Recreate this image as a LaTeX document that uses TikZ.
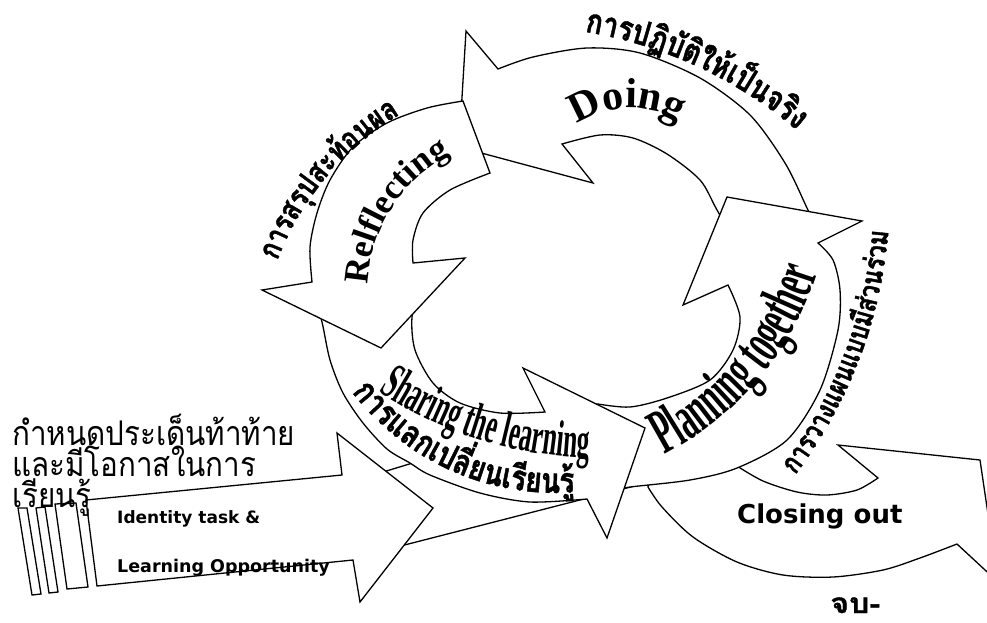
\documentclass[tikz,border=0pt]{standalone}
\usepackage{fontspec}
\setmainfont{Liberation Serif}
\newfontfamily\thaifont[Script=Thai,FakeStretch=0.87]{Loma}
\newfontfamily\thaiheavy[Script=Thai,FakeStretch=0.8,BoldFeatures={FakeBold=1.2}]{Loma}
\newfontfamily\thaiwide[Script=Thai,FakeStretch=1.15,BoldFeatures={FakeBold=1}]{Loma}
\newfontfamily\headfont{DejaVu Sans}
\newfontfamily\narrowfont[FakeStretch=0.5]{Liberation Serif}
\usetikzlibrary{decorations.text}

\tikzset{
	block/.style={draw=black,fill=white,line width=1.3pt,line join=miter},
	curvetext/.style={decorate,decoration={text along path,text={#1}}},
}

\begin{document}
\begin{tikzpicture}[x=1pt,y=-1pt]
	\useasboundingbox (0,0) rectangle (987,622);
	\clip (0,0) rectangle (987,622);

	\draw[block] (370,476) -- (560,418) -- (650,482) -- (385,550) -- cycle;

	\draw[block] (650,470) -- (730,452) -- plot[smooth] coordinates {(737,466) (763,481) (797,492) (827,495) (857,490) (878,478)} -- (838,445) -- (980,460) -- (998,582) -- (957,544) -- plot[smooth] coordinates {(957,544) (920,558) (883,570) (833,577) (783,575) (737,562) (693,537) (662,507) (648,487)} -- cycle;

	\draw[block] (86,500) -- (342,475) -- (337,433) -- (433,508) -- (360,602) -- (353,560) -- (97,586) -- cycle;
	\draw[block] (18,508) -- (27,508) -- (41,594) -- (32,595) -- cycle;
	\draw[block] (36,508) -- (45,507) -- (58,592) -- (49,593) -- cycle;
	\draw[block] (55,504) -- (76,503) -- (88,587) -- (67,589) -- cycle;

	\draw[block] plot[smooth] coordinates {(818,232) (807,208) (785,163) (750,115) (700,78) (640,53) (587,48) (533,57) (498,69)} -- (466,31) -- (459,147) -- (593,183) -- (562,144) -- plot[smooth] coordinates {(562,144) (600,135) (633,138) (667,154) (700,180) (717,210) (740,250)} -- cycle;

	\draw[block] (580,405) -- (615,490) -- plot[smooth] coordinates {(615,490) (630,487) (690,480) (737,468) (787,440) (820,390) (838,330) (840,290) (833,260) (818,243)} -- (862,221) -- (727,197) -- (683,305) -- (728,285) -- plot[smooth] coordinates {(728,285) (740,317) (733,350) (710,380) (667,398) (630,407) (598,404)} -- cycle;

	\draw[block] (315,300) -- plot[smooth] coordinates {(315,300) (322,322) (330,360) (343,393) (363,423) (387,449) (410,463) (430,475) (480,493) (530,502) (587,499)} -- (607,538) -- (645,428) -- (523,368) -- (545,412) -- plot[smooth] coordinates {(545,412) (500,413) (460,403) (433,383) (415,350) (412,317) (420,290)} -- cycle;

	\draw[block] (463,101) -- (490,173) -- plot[smooth] coordinates {(490,173) (450,190) (423,213) (413,240) (413,263)} -- (465,258) -- (381,348) -- (262,290) -- (312,282) -- plot[smooth] coordinates {(312,282) (310,247) (317,213) (330,180) (353,147) (387,123) (427,108) (463,101)} -- cycle;

	\path[curvetext={|\bfseries\fontsize{42}{42}\selectfont|Doing}] plot[domain=0:1,samples=60,variable=\t] ({630+92*cos(-125+95*\t)},{200+92*sin(-125+95*\t)});
	\path[curvetext={|\thaiheavy\bfseries\fontsize{34}{34}\selectfont|การป{ฏิ}{บั}{ติ}ใ{ห้}เ{ป็}นจ{ริ}ง}] plot[domain=0:1,samples=80,variable=\t] ({513.5+436*cos(-80.6+42*\t)},{461.9+436*sin(-80.6+42*\t)});
	\path[curvetext={|\bfseries\fontsize{35}{35}\selectfont|Relflecting}] plot[domain=0:1,samples=80,variable=\t] ({520+152*cos(182+88*\t)},{290+152*sin(182+88*\t)});
	\path[curvetext={|\thaiheavy\bfseries\fontsize{31}{31}\selectfont|การส{รุ}ปสะ{ท้}อนผล},decoration={raise=3pt}] plot[domain=0:1,samples=80,variable=\t] ({550+289*cos(200.9+50*\t)},{365+289*sin(200.9+50*\t)});
	\path[curvetext={|\narrowfont\bfseries\fontsize{51}{51}\selectfont|Sharing the learning}] plot[domain=0:1,samples=80,variable=\t] ({599+401*cos(123.4-55*\t)},{57+401*sin(123.4-55*\t)});
	\path[curvetext={|\thaiheavy\bfseries\fontsize{35}{35}\selectfont|การแลกเป{ลี่}ยนเ{รี}ยน{รู้}}] plot[domain=0:1,samples=80,variable=\t] ({555.5+256*cos(142.7-68*\t)},{236.9+256*sin(142.7-68*\t)});
	\path[curvetext={|\narrowfont\bfseries\fontsize{64}{64}\selectfont|Planning together}] plot[domain=0:1,samples=80,variable=\t] ({522.4+309*cos(62.6-63*\t)},{180.4+309*sin(62.6-63*\t)});
	\path[curvetext={|\thaiheavy\bfseries\fontsize{29}{29}\selectfont|การวางแผนแบบ{มี}{ส่}วน{ร่}วม}] plot[domain=0:1,samples=80,variable=\t] ({424+466*cos(37.2-38*\t)},{193.4+466*sin(37.2-38*\t)});

	\node[anchor=base west,inner sep=0pt,font=\thaifont\fontsize{34}{34}\selectfont] (taskone) at (12,445) {กำหนดประเด็นท้าท้าย};
	\node[anchor=base west,inner sep=0pt,font=\thaifont\fontsize{34}{34}\selectfont] (tasktwo) at (12,476) {และมีโอกาสในการ};
	\node[anchor=base west,inner sep=0pt,font=\thaifont\fontsize{34}{34}\selectfont] (taskthree) at (12,507) {เรียนรู้};
	\node[anchor=base west,inner sep=0pt,font=\headfont\bfseries\fontsize{17}{17}\selectfont] (identity) at (117,523) {Identity task \&};
	\node[anchor=base west,inner sep=0pt,font=\headfont\bfseries\fontsize{17.5}{17.5}\selectfont] (opportunity) at (117,572) {Learning Opportunity};
	\node[anchor=base west,inner sep=0pt,font=\headfont\bfseries\fontsize{26}{26}\selectfont] (closing) at (737,523) {Closing out};
	\node[anchor=base west,inner sep=0pt,font=\thaiwide\bfseries\fontsize{28}{28}\selectfont] (finish) at (830,613) {จบ-};
\end{tikzpicture}
\end{document}
